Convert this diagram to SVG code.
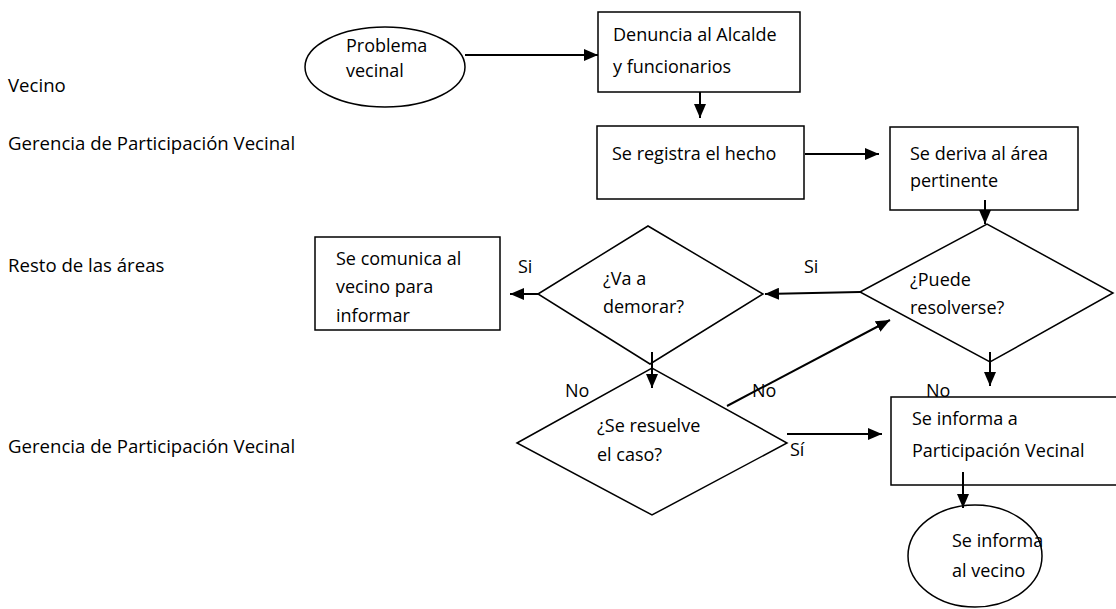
<svg xmlns="http://www.w3.org/2000/svg" width="1116" height="609" viewBox="0 0 1116 609">
<style>
text{font-family:"Open Sans","Liberation Sans",sans-serif;font-size:18px;fill:#000}
.lane{font-size:18.6px}
.s{fill:#fff;stroke:#000;stroke-width:1.5}
.c{stroke:#000;stroke-width:2;fill:none;marker-end:url(#ah)}
</style>
<defs>
<marker id="ah" viewBox="0 0 14 12" refX="14" refY="6" markerWidth="14" markerHeight="12" markerUnits="userSpaceOnUse" orient="auto">
<path d="M0,0L14,6L0,12z" fill="#000"/>
</marker>
</defs>
<rect width="1116" height="609" fill="#fff"/>
<g id="lanes">
<text class="lane" x="8" y="92">Vecino</text>
<text class="lane" x="8" y="150">Gerencia de Participación Vecinal</text>
<text class="lane" x="8" y="272">Resto de las áreas</text>
<text class="lane" x="8" y="453">Gerencia de Participación Vecinal</text>
</g>
<g id="n1"><ellipse class="s" cx="385" cy="67" rx="80" ry="40"/><text x="346" y="52">Problema</text><text x="346" y="77">vecinal</text></g>
<g id="n2"><rect class="s" x="598" y="12" width="202" height="80"/><text x="613" y="41">Denuncia al Alcalde</text><text x="613" y="73">y funcionarios</text></g>
<g id="n3"><rect class="s" x="597" y="126" width="207" height="73"/><text x="612" y="160">Se registra el hecho</text></g>
<g id="n4"><rect class="s" x="890" y="127" width="188" height="83"/><text x="910" y="160">Se deriva al área</text><text x="910" y="187">pertinente</text></g>
<g id="n5"><path class="s" d="M860,292L987,224L1113,293L990,362z"/><text x="910" y="286">¿Puede</text><text x="910" y="314">resolverse?</text></g>
<g id="n6"><path class="s" d="M538,294L648,226L763,294L650,364z"/><text x="603" y="285">¿Va a</text><text x="603" y="313">demorar?</text></g>
<g id="n7"><rect class="s" x="315" y="237" width="185" height="93"/><text x="336" y="265">Se comunica al</text><text x="336" y="293">vecino para</text><text x="336" y="322">informar</text></g>
<g id="n8"><path class="s" d="M517,443L652,368L787,443L652,515z"/><text x="597" y="432">¿Se resuelve</text><text x="597" y="461">el caso?</text></g>
<g id="n9"><rect class="s" x="891" y="397" width="240" height="88"/><text x="912" y="425">Se informa a</text><text x="912" y="457">Participación Vecinal</text></g>
<g id="n10"><ellipse class="s" cx="975" cy="556" rx="67" ry="51"/><text x="952" y="547">Se informa</text><text x="952" y="577">al vecino</text></g>
<g id="connectors">
<line class="c" x1="465" y1="55" x2="598" y2="55"/>
<line class="c" x1="700" y1="92" x2="700" y2="118"/>
<line class="c" x1="805" y1="154" x2="879" y2="154"/>
<line class="c" x1="985" y1="200" x2="985" y2="224"/>
<line class="c" x1="860" y1="292" x2="765" y2="294"/>
<line class="c" x1="538" y1="294" x2="510" y2="294"/>
<line class="c" x1="652" y1="352" x2="652" y2="388"/>
<line class="c" x1="727" y1="406" x2="890" y2="320"/>
<line class="c" x1="990" y1="352" x2="990" y2="386"/>
<line class="c" x1="787" y1="434" x2="882" y2="434"/>
<line class="c" x1="963" y1="472" x2="963" y2="508"/>
</g>
<g id="labels">
<text x="804" y="273">Si</text>
<text x="518" y="273">Si</text>
<text x="565" y="397">No</text>
<text x="752" y="397">No</text>
<text x="926" y="397">No</text>
<text x="790" y="456">Sí</text>
</g>
</svg>
